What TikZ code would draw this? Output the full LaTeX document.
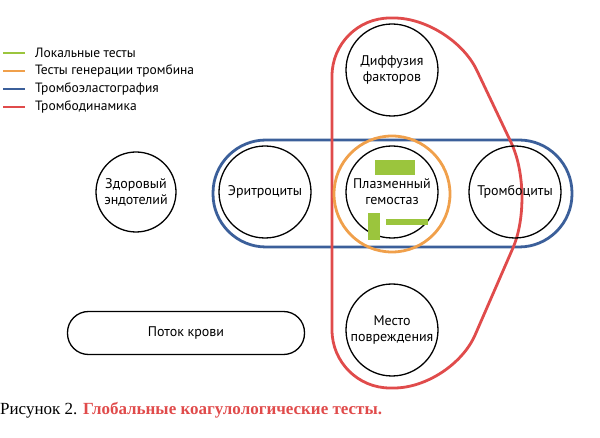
\documentclass[tikz,border=0pt]{standalone}
\usepackage{fontspec}
\setmainfont{PT Sans}
\newfontfamily\capfont{Liberation Serif}
\definecolor{tgreen}{HTML}{9BC53D}
\definecolor{torange}{HTML}{F0A04B}
\definecolor{tblue}{HTML}{3B5F9A}
\definecolor{tred}{HTML}{E04B4B}
\tikzset{
  cell/.style={draw=black,line width=1.3pt,circle,minimum size=92pt,align=center,font=\fontsize{14}{16}\selectfont,inner sep=0pt},
  legline/.style={line width=1.8pt},
  legtext/.style={anchor=west,font=\fontsize{13.5}{15}\selectfont,inner sep=0pt},
  bar/.style={fill=tgreen,draw=none}
}
\begin{document}
\begin{tikzpicture}[x=1pt,y=-1pt]
\useasboundingbox (0,0) rectangle (600,438);
% legend
\foreach \c/\t [count=\i] in {tgreen/Локальные тесты,torange/Тесты генерации тромбина,tblue/Тромбоэластография,tred/Тромбодинамика}
{
  \draw[legline,\c] (3,35+18*\i) -- (25,35+18*\i);
  \node[legtext] (leg\i) at (35,35+18*\i) {\t};
}
% groups
\draw[tblue,line width=2.8pt,rounded corners=53pt] (213,140) rectangle (572,247);
\draw[tred,line width=2.8pt,rounded corners=58pt] (332,200) -- (332,18) -- (452,18) -- (536,195) -- (452,388) -- (332,388) -- cycle;
\draw[torange,line width=2.8pt] (392,194) circle (58);
% cells
\node[cell,minimum size=80pt] (endo) at (136,192) {Здоровый\\эндотелий};
\node[cell] (ery) at (265,192) {Эритроциты};
\node[cell] (plasma) at (392,192) {Плазменный\\гемостаз};
\node[cell] (plt) at (515,192) {Тромбоциты};
\node[cell] (diff) at (392,70) {Диффузия\\факторов};
\node[cell] (site) at (392,330) {Место\\повреждения};
\node[draw=black,line width=1.3pt,rounded corners=21pt,minimum width=237pt,minimum height=43pt,font=\fontsize{14}{16}\selectfont] (flow) at (186,333) {Поток крови};
% local tests
\fill[bar] (375,160) rectangle (415,175);
\fill[bar] (368,213) rectangle (380,240);
\fill[bar] (386,219) rectangle (428,225);
% caption
\node[anchor=west,inner sep=0pt,font=\capfont\fontsize{17}{19}\selectfont] (cap) at (0,410) {Рисунок 2. \textcolor{tred}{\textbf{Глобальные коагулологические тесты.}}};
\end{tikzpicture}
\end{document}
